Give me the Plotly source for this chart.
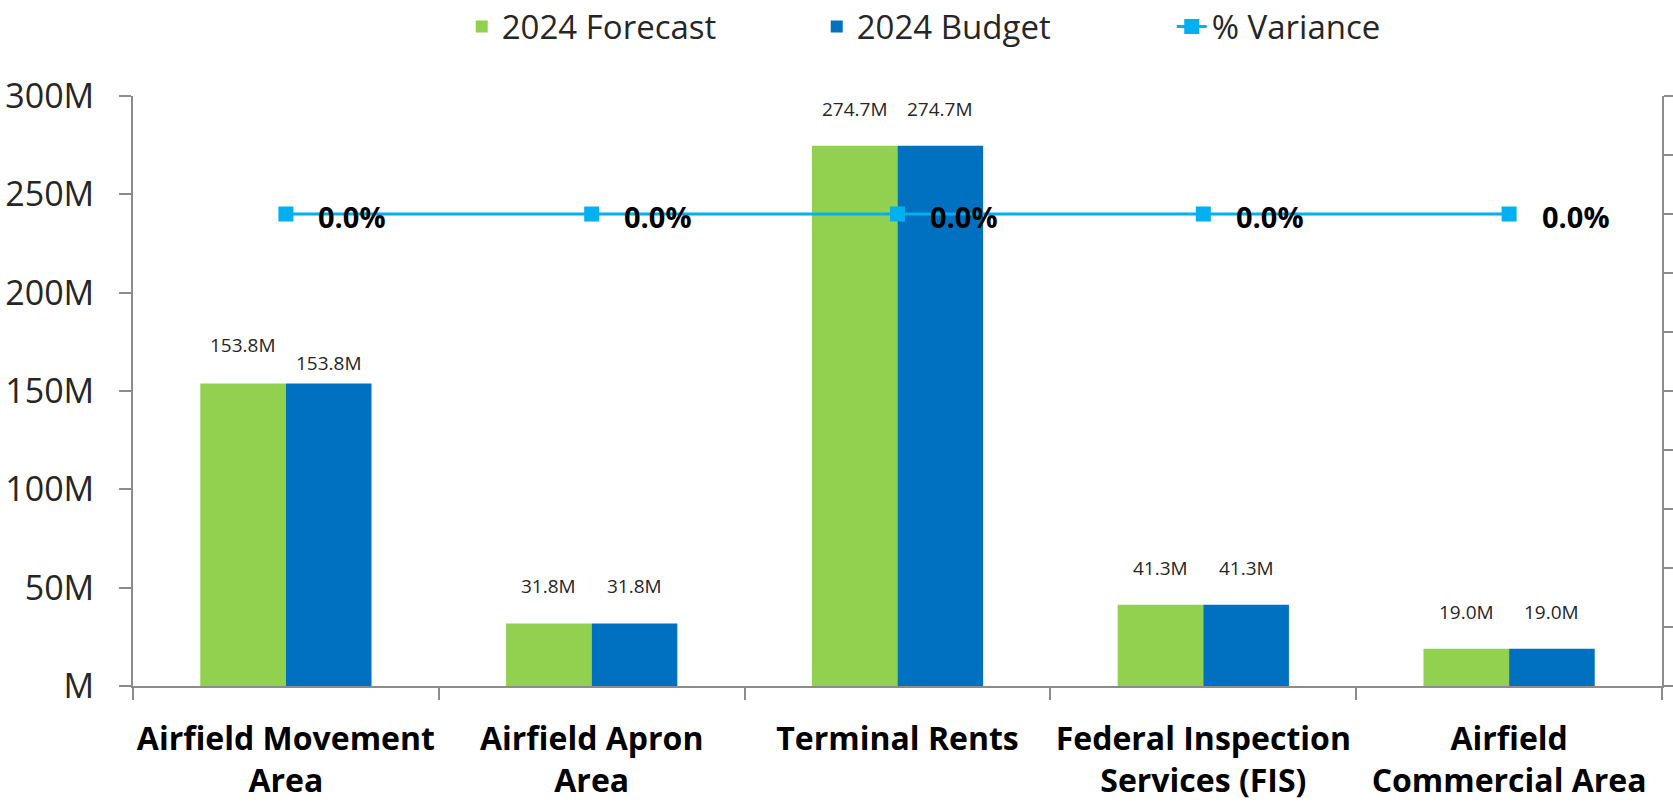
import plotly.graph_objects as go

categories = [
    "Airfield Movement<br>Area",
    "Airfield Apron<br>Area",
    "Terminal Rents",
    "Federal Inspection<br>Services (FIS)",
    "Airfield<br>Commercial Area",
]
forecast_2024 = [153.8e6, 31.8e6, 274.7e6, 41.3e6, 19.0e6]
budget_2024 = [153.8e6, 31.8e6, 274.7e6, 41.3e6, 19.0e6]
variance_pct = [0.0, 0.0, 0.0, 0.0, 0.0]

y_tickvals = [0, 50e6, 100e6, 150e6, 200e6, 250e6, 300e6]
y_ticktext = ["M", "50M", "100M", "150M", "200M", "250M", "300M"]

GREEN = "#92D050"
BLUE = "#0070C0"
CYAN = "#00B0F0"
AXIS = "#8C8C8C"
FONT = "Open Sans"
BARGAP = 0.44

fig = go.Figure()
fig.add_trace(go.Bar(name="2024 Forecast", x=categories, y=forecast_2024,
                     marker_color=GREEN, marker_line_width=0))
fig.add_trace(go.Bar(name="2024 Budget", x=categories, y=budget_2024,
                     marker_color=BLUE, marker_line_width=0))
fig.add_trace(go.Scatter(name="% Variance", x=categories, y=variance_pct, yaxis="y2",
                         mode="lines+markers",
                         line=dict(color=CYAN, width=3),
                         marker=dict(symbol="square", size=15, color=CYAN)))

# data labels
off = (1 - BARGAP) / 4
label_shift = {("f", 0): 24, ("b", 0): 6}
for i in range(len(categories)):
    for key, vals, dx in (("f", forecast_2024, -off), ("b", budget_2024, off)):
        fig.add_annotation(x=i + dx, y=vals[i], xref="x", yref="y",
                           text=f"{vals[i] / 1e6:.1f}M", showarrow=False,
                           yanchor="bottom", yshift=label_shift.get((key, i), 22),
                           font=dict(family=FONT, size=19, color="#262626"))
    fig.add_annotation(x=i + 0.1, y=variance_pct[i], xref="x", yref="y2",
                       text=f"{variance_pct[i]:.1f}%", showarrow=False,
                       xanchor="left", yshift=-2,
                       font=dict(family=FONT, size=29, color="#000000", weight="bold"))

fig.update_layout(
    width=1673, height=806,
    paper_bgcolor="white", plot_bgcolor="white",
    margin=dict(l=133, r=11, t=96, b=120, autoexpand=False),
    barmode="group", bargap=BARGAP, bargroupgap=0,
    font=dict(family=FONT, color="#262626"),
    showlegend=True,
    legend=dict(orientation="h", x=0.215, xanchor="left", y=1.165, yanchor="top",
                font=dict(family=FONT, size=33, color="#262626"),
                entrywidth=310, traceorder="normal"),
    xaxis=dict(showline=True, linecolor=AXIS, linewidth=2, ticks="outside",
               tickson="boundaries", ticklen=12, tickcolor=AXIS, tickwidth=2,
               showgrid=False, ticklabelstandoff=24, automargin=False, tickangle=0,
               tickfont=dict(family=FONT, size=32, color="#000000", weight="bold")),
    yaxis=dict(range=[0, 300e6], tickvals=y_tickvals, ticktext=y_ticktext,
               showline=True, linecolor=AXIS, linewidth=2, ticks="outside",
               ticklen=12, tickcolor=AXIS, tickwidth=2, showgrid=False,
               zeroline=False, ticklabelstandoff=18, automargin=False,
               tickfont=dict(family=FONT, size=34, color="#262626")),
    yaxis2=dict(overlaying="y", side="right", range=[-0.8, 0.2], dtick=0.1,
                showticklabels=False, showline=True, linecolor=AXIS, linewidth=2,
                ticks="outside", ticklen=12, tickcolor=AXIS, tickwidth=2,
                showgrid=False, zeroline=False, automargin=False),
)

fig.write_html("out.html", config={"displayModeBar": False},
               post_script="document.body.style.margin='0';document.body.style.overflow='hidden';")
